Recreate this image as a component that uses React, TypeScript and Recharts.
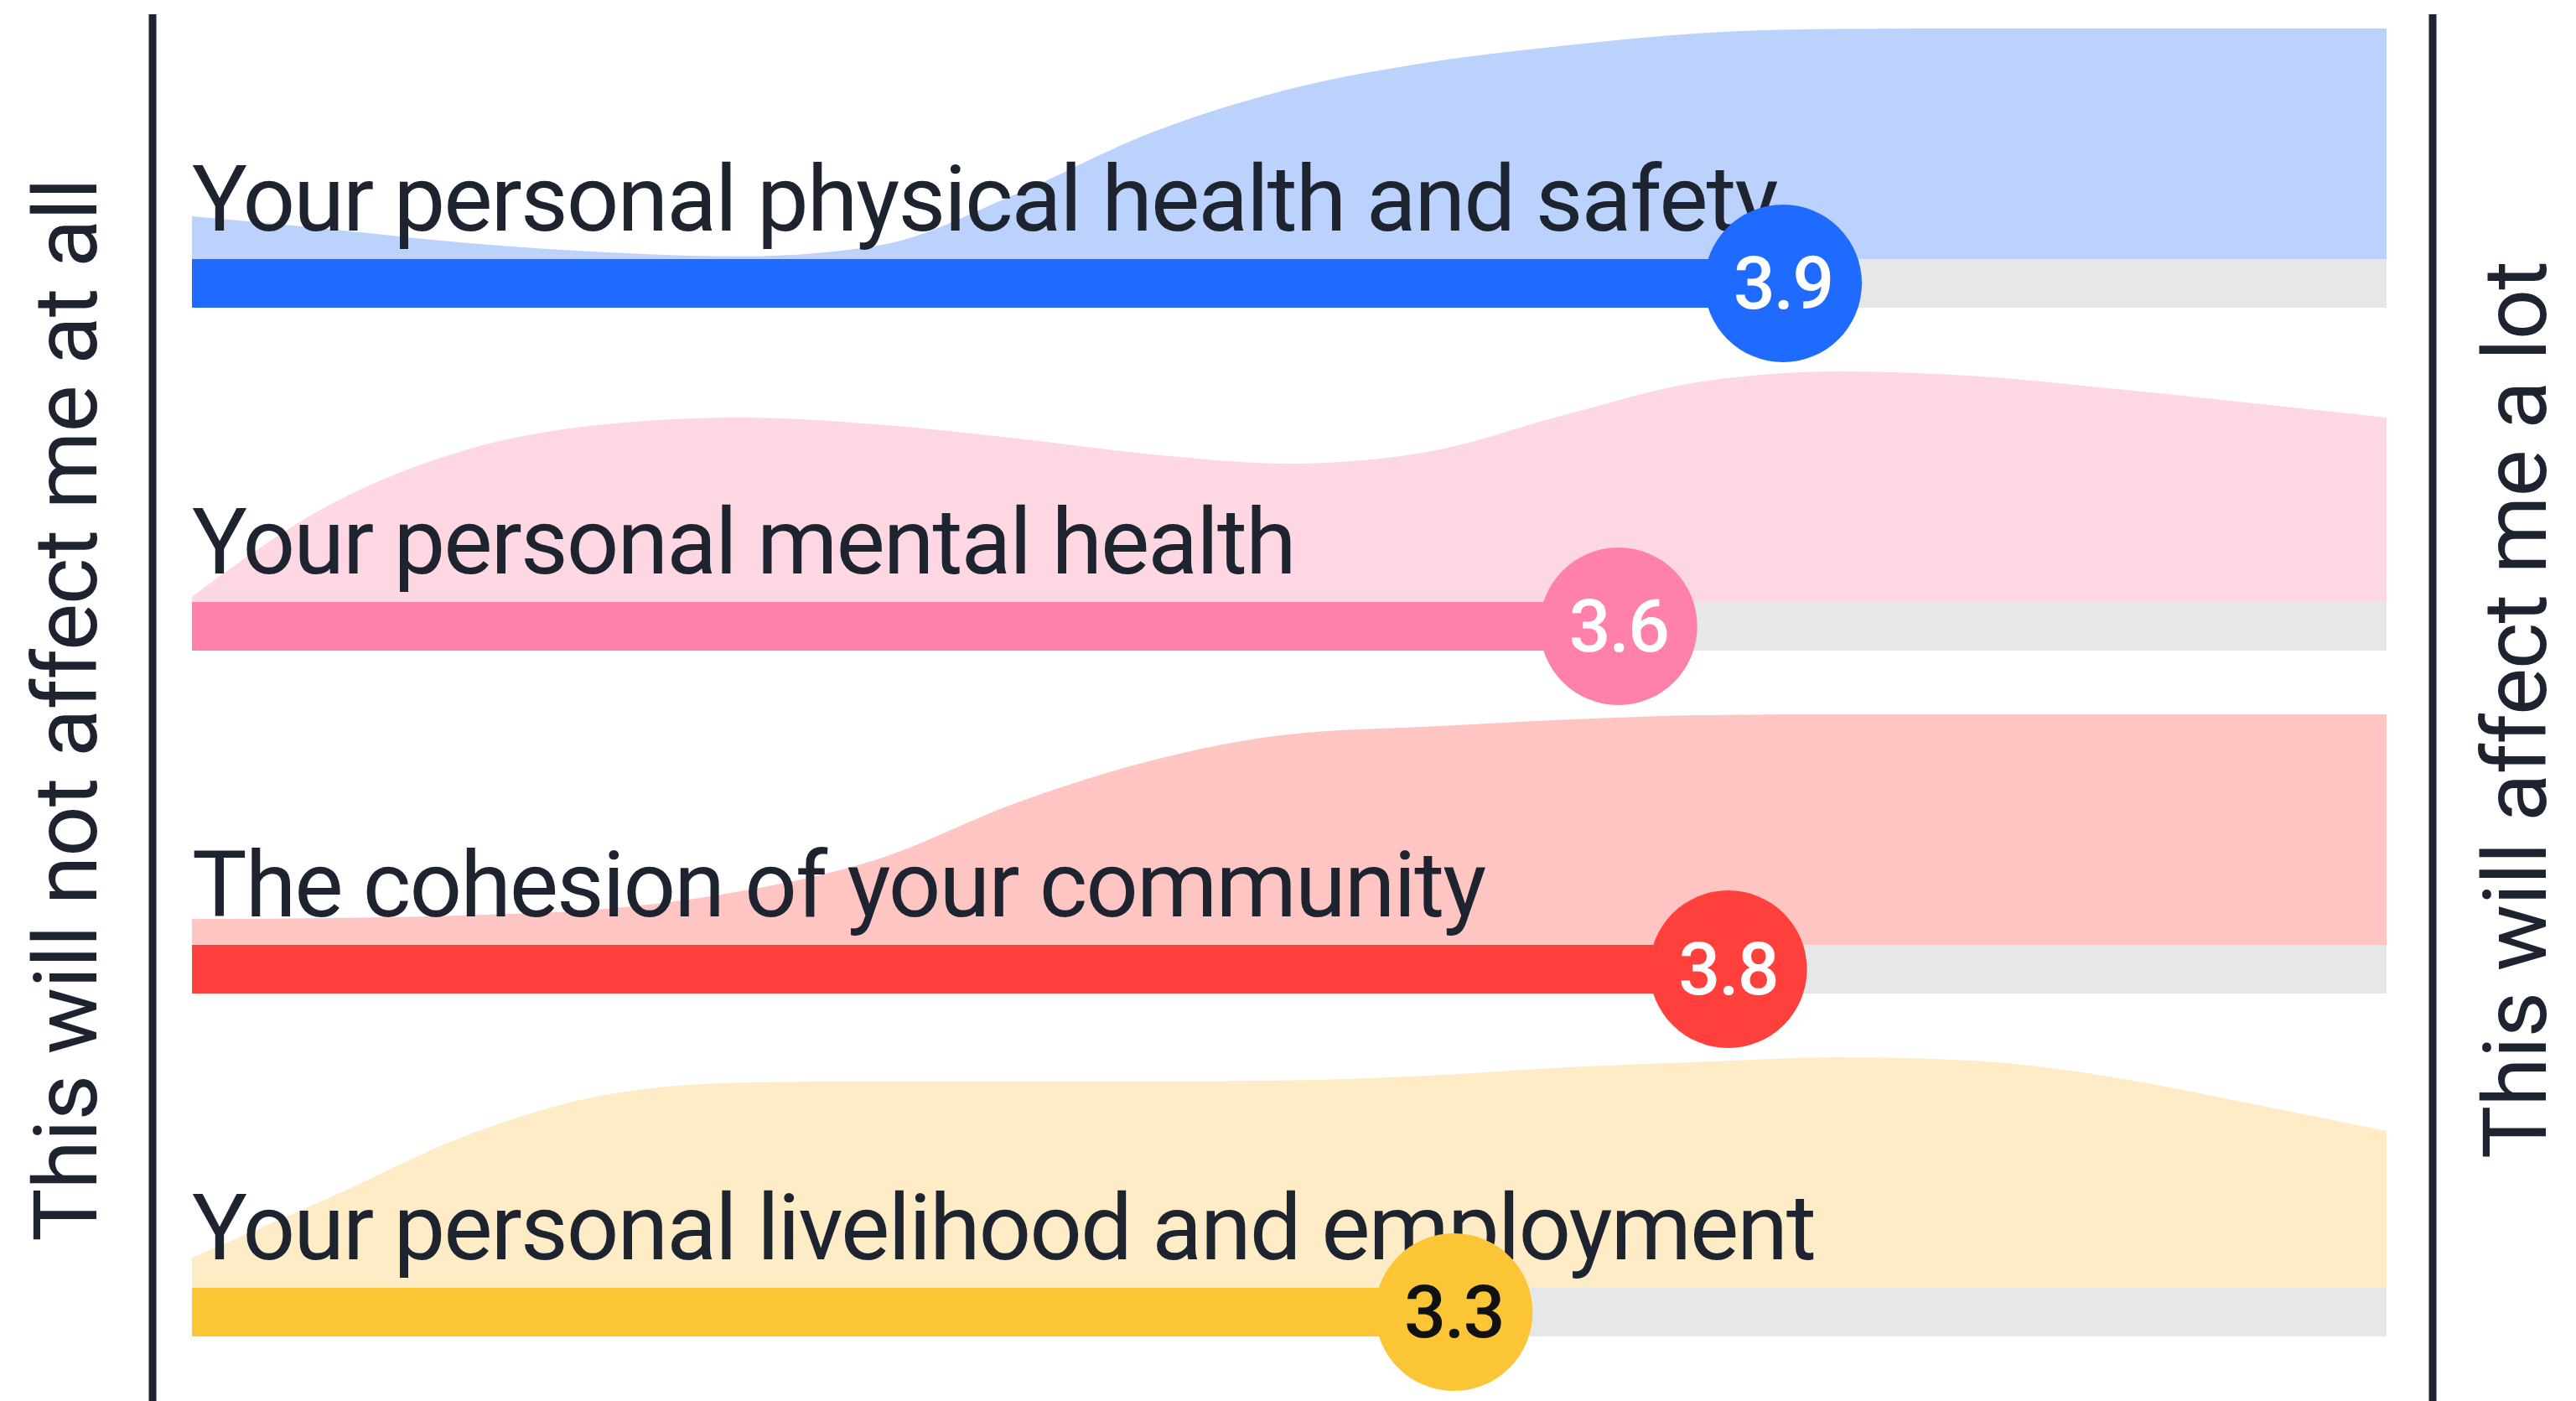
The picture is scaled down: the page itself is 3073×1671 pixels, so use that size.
import { ComposedChart, Area, XAxis, YAxis, ReferenceArea, ReferenceDot } from 'recharts'

// Survey items, mean score on a 1-5 scale, and the smoothed answer distribution
const categories = [
	'Your personal physical health and safety',
	'Your personal mental health',
	'The cohesion of your community',
	'Your personal livelihood and employment',
]
const meanScores = [3.9, 3.6, 3.8, 3.3]

const scalePoints = [1, 1.25, 1.5, 1.75, 2, 2.25, 2.5, 2.75, 3, 3.25, 3.5, 3.75, 4, 4.25, 4.5, 4.75, 5]
const physicalDensity = [0.185, 0.13, 0.07, 0.03, 0.012, 0.058, 0.28, 0.55, 0.737, 0.852, 0.925, 0.98, 0.998, 1, 1, 1, 1]
const mentalDensity = [0.024, 0.42, 0.66, 0.77, 0.8, 0.77, 0.71, 0.64, 0.6, 0.65, 0.81, 0.955, 1, 0.98, 0.925, 0.864, 0.8]
const cohesionDensity = [0.112, 0.116, 0.128, 0.155, 0.233, 0.372, 0.614, 0.8, 0.913, 0.946, 0.976, 0.996, 1, 1, 1, 1, 1]
const livelihoodDensity = [0.13, 0.39, 0.66, 0.835, 0.89, 0.896, 0.896, 0.896, 0.9, 0.92, 0.955, 0.98, 1, 0.985, 0.914, 0.8, 0.68]

const axisLabels = ['This will not affect me at all', 'This will affect me a lot']

const densities = [physicalDensity, mentalDensity, cohesionDensity, livelihoodDensity]

const barColors = ['#1f6bff', '#ff80a8', '#ff403c', '#fcc535']
const areaColors = ['#bbd3fc', '#fdd8e3', '#fec5c3', '#feecc6']
const scoreTextColors = ['#ffffff', '#ffffff', '#ffffff', '#111111']

const WIDTH = 3073
const HEIGHT = 1671
const ROW_STEP = 409
const ROW_HEIGHT = 500
const BAR = 0.211 // bar thickness in density units (58px against a 275px peak)
const TEXT = '#1e2330'
const FONT = 'Roboto, sans-serif'

function DistributionRow({ index }: { index: number }) {
	const data = scalePoints.map((x, i) => ({ x, density: densities[index][i] }))
	const mean = meanScores[index]

	return (
		<div style={{ position: 'absolute', left: 0, top: index * ROW_STEP }}>
			<ComposedChart
				width={WIDTH}
				height={ROW_HEIGHT}
				data={data}
				margin={{ top: 34, right: 226, bottom: 133, left: 229 }}
			>
				<XAxis type="number" dataKey="x" domain={[1, 5]} hide />
				<YAxis type="number" domain={[-BAR, 1]} hide />
				<Area
					type="monotone"
					dataKey="density"
					stroke="none"
					fill={areaColors[index]}
					fillOpacity={1}
					baseValue={0}
					isAnimationActive={false}
				/>
				{/* grey track, then the score bar */}
				<ReferenceArea x1={1} x2={5} y1={-BAR} y2={0} fill="#e6e7e9" fillOpacity={1} stroke="none" />
				<ReferenceArea x1={1} x2={mean} y1={-BAR} y2={0} fill={barColors[index]} fillOpacity={1} stroke="none" />
				<ReferenceDot
					x={1}
					y={0}
					shape={(p: any) => (
						<text
							x={p.cx}
							y={p.cy - 34}
							fill={TEXT}
							fontFamily={FONT}
							fontSize={110}
							letterSpacing={-2}
						>
							{categories[index]}
						</text>
					)}
				/>
				<ReferenceDot
					x={mean}
					y={-BAR / 2}
					r={94}
					shape={(p: any) => (
						<g>
							<circle cx={p.cx} cy={p.cy} r={94} fill={barColors[index]} />
							<text
								x={p.cx}
								y={p.cy}
								textAnchor="middle"
								dominantBaseline="central"
								fill={scoreTextColors[index]}
								fontFamily={FONT}
								fontSize={88}
								fontWeight={500}
								letterSpacing={-2}
							>
								{mean.toFixed(1)}
							</text>
						</g>
					)}
				/>
			</ComposedChart>
		</div>
	)
}

export default function App() {
	return (
		<div
			style={{
				position: 'absolute',
				left: 0,
				top: 0,
				width: WIDTH,
				height: HEIGHT,
				overflow: 'hidden',
				background: '#ffffff',
			}}
		>
			<svg width={WIDTH} height={HEIGHT} style={{ position: 'absolute', left: 0, top: 0 }}>
				<line x1={182} y1={17} x2={182} y2={HEIGHT} stroke={TEXT} strokeWidth={9} />
				<line x1={2902} y1={17} x2={2902} y2={HEIGHT} stroke={TEXT} strokeWidth={9} />
				<text
					x={115}
					y={847}
					transform="rotate(-90 115 847)"
					textAnchor="middle"
					fill={TEXT}
					fontFamily={FONT}
					fontSize={106}
					letterSpacing={-1}
				>
					{axisLabels[0]}
				</text>
				<text
					x={3037}
					y={847}
					transform="rotate(-90 3037 847)"
					textAnchor="middle"
					fill={TEXT}
					fontFamily={FONT}
					fontSize={106}
					letterSpacing={-1}
				>
					{axisLabels[1]}
				</text>
			</svg>
			{categories.map((_, i) => (
				<DistributionRow key={i} index={i} />
			))}
		</div>
	)
}
